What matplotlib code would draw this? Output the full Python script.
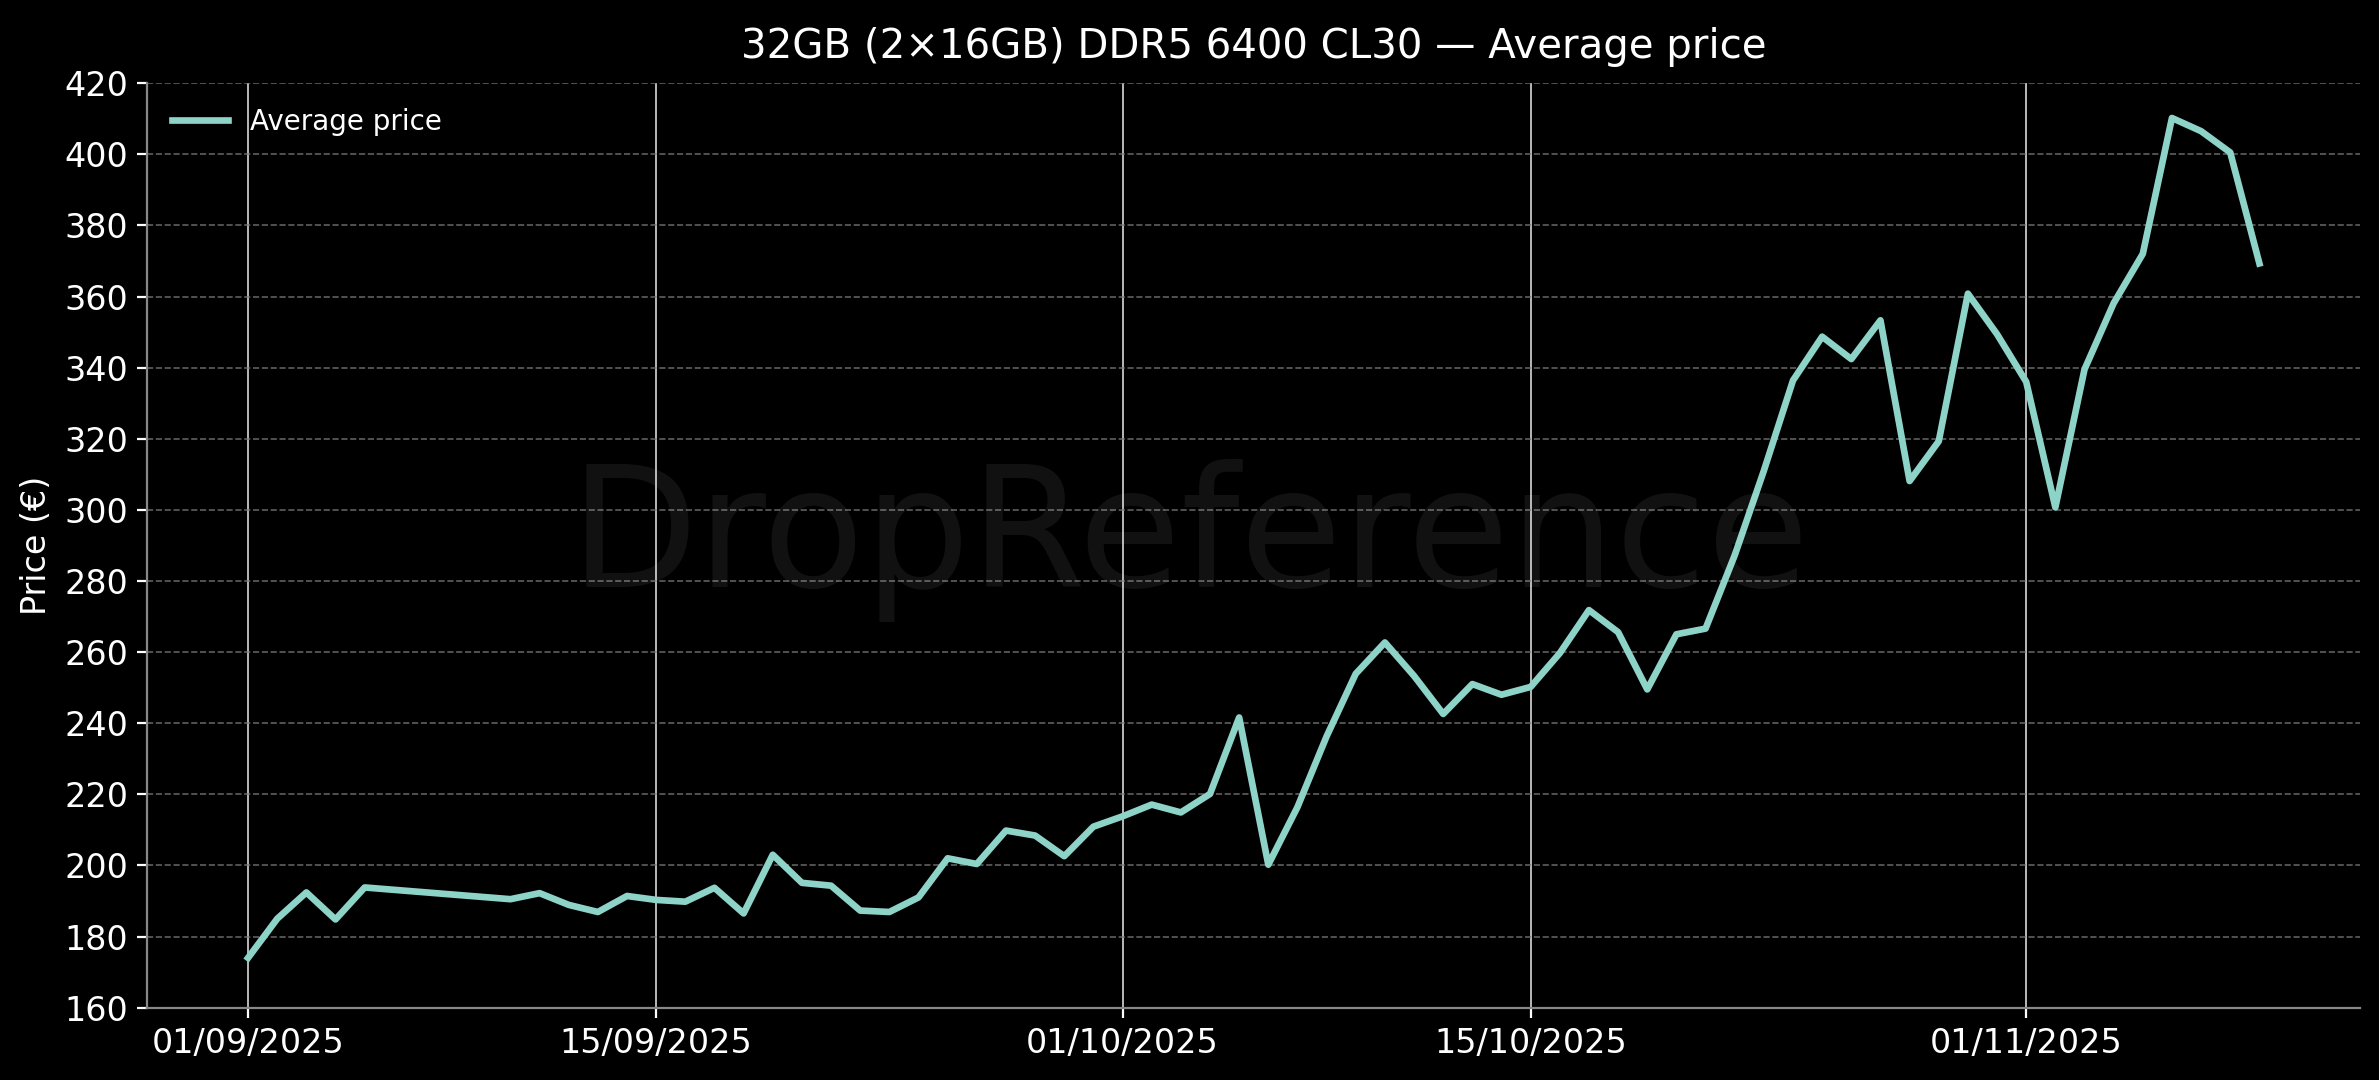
import matplotlib
matplotlib.use("Agg")
import matplotlib.pyplot as plt
import matplotlib.dates as mdates
import pandas as pd

# dates with prices (no data from 06/09 to 09/09)
dates = [
    "2025-09-01", "2025-09-02", "2025-09-03", "2025-09-04", "2025-09-05",
    "2025-09-10", "2025-09-11", "2025-09-12", "2025-09-13", "2025-09-14",
    "2025-09-15", "2025-09-16", "2025-09-17", "2025-09-18", "2025-09-19",
    "2025-09-20", "2025-09-21", "2025-09-22", "2025-09-23", "2025-09-24",
    "2025-09-25", "2025-09-26", "2025-09-27", "2025-09-28", "2025-09-29",
    "2025-09-30", "2025-10-01", "2025-10-02", "2025-10-03", "2025-10-04",
    "2025-10-05", "2025-10-06", "2025-10-07", "2025-10-08", "2025-10-09",
    "2025-10-10", "2025-10-11", "2025-10-12", "2025-10-13", "2025-10-14",
    "2025-10-15", "2025-10-16", "2025-10-17", "2025-10-18", "2025-10-19",
    "2025-10-20", "2025-10-21", "2025-10-22", "2025-10-23", "2025-10-24",
    "2025-10-25", "2025-10-26", "2025-10-27", "2025-10-28", "2025-10-29",
    "2025-10-30", "2025-10-31", "2025-11-01", "2025-11-02", "2025-11-03",
    "2025-11-04", "2025-11-05", "2025-11-06", "2025-11-07", "2025-11-08",
    "2025-11-09",
]
prices = [
    174.0, 185.0, 192.4, 184.8, 193.8,
    190.5, 192.2, 188.9, 186.9, 191.4,
    190.3, 189.8, 193.7, 186.5, 203.0,
    195.1, 194.3, 187.3, 186.9, 191.0,
    202.0, 200.4, 209.8, 208.4, 202.6,
    210.9, 213.8, 217.1, 214.9, 220.1,
    241.6, 200.2, 216.4, 236.3, 253.9,
    262.7, 253.3, 242.6, 251.0, 248.0,
    250.2, 259.7, 271.8, 265.6, 249.5,
    265.0, 266.6, 287.2, 311.0, 336.4,
    348.7, 342.4, 353.3, 308.1, 319.3,
    360.8, 349.4, 336.0, 300.7, 339.5,
    358.1, 372.0, 410.2, 406.5, 400.5,
    369.3,
]

x = pd.to_datetime(dates)

plt.style.use("dark_background")
fig, ax = plt.subplots(figsize=(11.895, 5.4), dpi=200)
fig.subplots_adjust(left=0.062, right=0.992, top=0.923, bottom=0.067)

# watermark
fig.text(0.5, 0.5, "DropReference", fontsize=60, color="white", alpha=0.07,
         ha="center", va="center", zorder=0)

ax.plot(x, prices, color="#8dd3c7", linewidth=2.4, label="Average price")

ax.set_ylim(160, 420)
ax.set_yticks(range(160, 421, 20))
ax.xaxis.set_major_locator(mdates.DayLocator(bymonthday=[1, 15]))
ax.xaxis.set_major_formatter(mdates.DateFormatter("%d/%m/%Y"))

ax.grid(axis="y", linestyle="--", color="#777777", linewidth=0.6, alpha=0.8)
ax.grid(axis="x", linestyle="-", color="#cccccc", linewidth=0.7, alpha=0.9)

for s in ["top", "right"]:
    ax.spines[s].set_visible(False)
for s in ["left", "bottom"]:
    ax.spines[s].set_color("#888888")

ax.tick_params(labelsize=12)
ax.set_ylabel("Price (€)", fontsize=12)
ax.set_title("32GB (2×16GB) DDR5 6400 CL30 — Average price", fontsize=14.5, pad=9)
ax.legend(loc="upper left", frameon=False, fontsize=10)

fig.savefig("out.png", dpi=200, facecolor="black")
